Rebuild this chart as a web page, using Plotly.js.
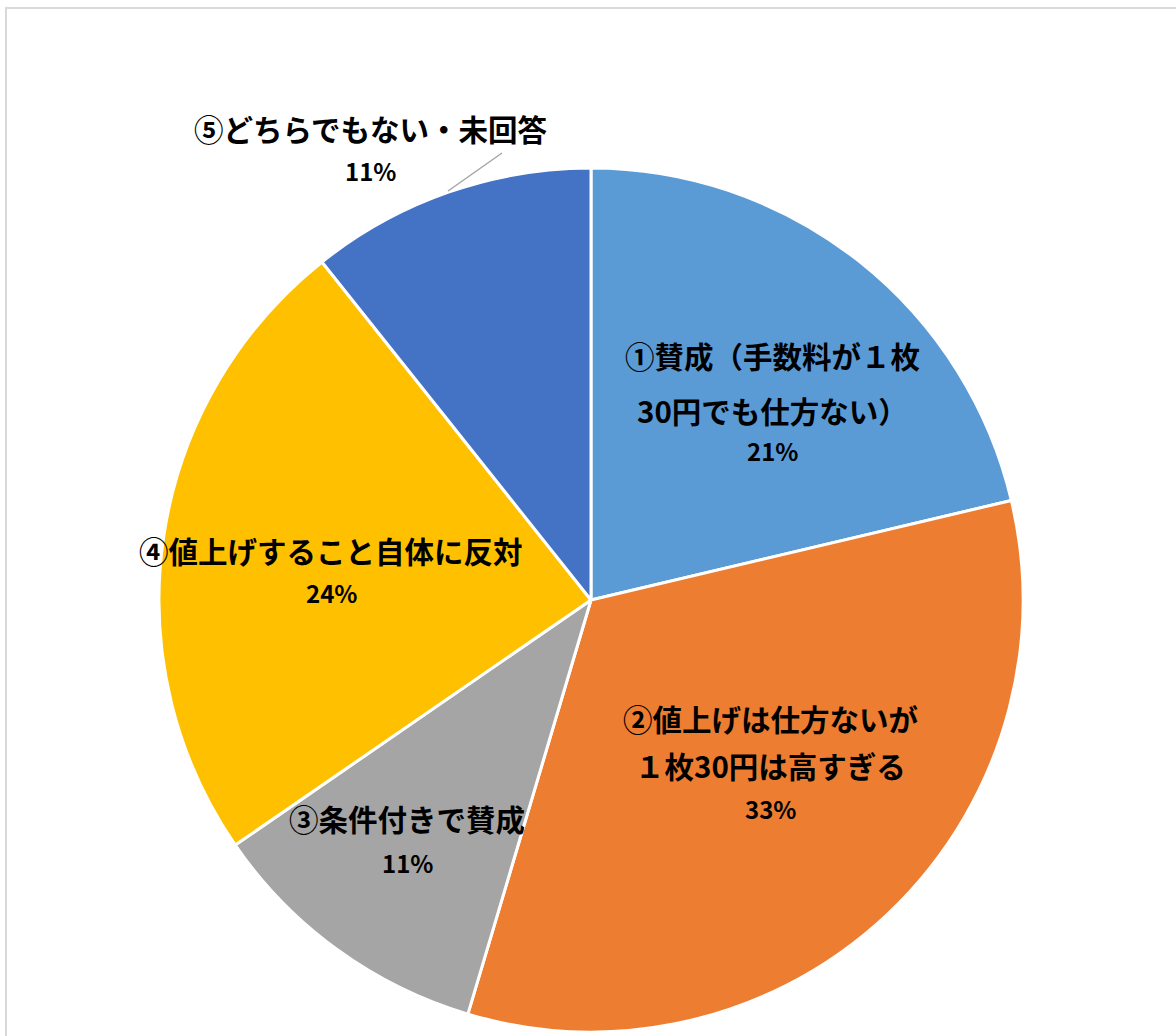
<!DOCTYPE html>
<html>
<head>
<meta charset="utf-8">
<script src="https://cdn.plot.ly/plotly-3.0.1.min.js"></script>
<style>
  html, body { margin: 0; padding: 0; background: #ffffff; }
  #chart { width: 1176px; height: 1036px; }
</style>
</head>
<body>
<div id="chart"></div>
<script>
// ---- data ----
const categories = [
  '①賛成（手数料が１枚30円でも仕方ない）',
  '②値上げは仕方ないが１枚30円は高すぎる',
  '③条件付きで賛成',
  '④値上げすること自体に反対',
  '⑤どちらでもない・未回答'
];
const labelLines = [
  ['①賛成（手数料が１枚', '30円でも仕方ない）'],
  ['②値上げは仕方ないが', '１枚30円は高すぎる'],
  ['③条件付きで賛成'],
  ['④値上げすること自体に反対'],
  ['⑤どちらでもない・未回答']
];
const values = [21.3, 33.3, 10.8, 23.9, 10.7];
const colors = ['#5B9BD5', '#ED7D31', '#A5A5A5', '#FFC000', '#4472C4'];

// ---- layout helpers (pixel positions of label blocks) ----
const W = 1176, H = 1036;
const labelPos = [
  {x: 772, ys: [355, 410, 450]},
  {x: 770, ys: [718, 765, 808]},
  {x: 407, ys: [818, 862]},
  {x: 331, ys: [550, 592]},
  {x: 370, ys: [128, 170]}
];

const total = values.reduce((a, b) => a + b, 0);
const annotations = [];
categories.forEach((c, i) => {
  const lines = labelLines[i].concat([Math.round(values[i] / total * 100) + '%']);
  lines.forEach((t, j) => {
    annotations.push({
      xref: 'paper', yref: 'paper',
      x: labelPos[i].x / W, y: 1 - labelPos[i].ys[j] / H,
      xanchor: 'center', yanchor: 'middle',
      text: '<b>' + t + '</b>',
      showarrow: false,
      font: {family: '"Noto Sans CJK JP", "Noto Sans", sans-serif', size: j === lines.length - 1 ? 24 : 29.5, color: '#000000'}
    });
  });
});

const cx = 591, cy = 600, r = 432;

const trace = {
  type: 'pie',
  labels: categories,
  values: values,
  sort: false,
  direction: 'clockwise',
  rotation: 0,
  textinfo: 'none',
  hoverinfo: 'label+percent',
  marker: {colors: colors, line: {color: '#ffffff', width: 3}},
  domain: {x: [(cx - r) / W, (cx + r) / W], y: [1 - (cy + r) / H, 1 - (cy - r) / H]},
  showlegend: false
};

const layout = {
  width: W, height: H,
  margin: {l: 0, r: 0, t: 0, b: 0},
  paper_bgcolor: '#ffffff',
  showlegend: false,
  annotations: annotations,
  shapes: [
    {type: 'line', xref: 'paper', yref: 'paper', x0: 5 / W, x1: 1, y0: 1 - 8 / H, y1: 1 - 8 / H, line: {color: '#D9D9D9', width: 2}},
    {type: 'line', xref: 'paper', yref: 'paper', x0: 6 / W, x1: 6 / W, y0: 0, y1: 1 - 8 / H, line: {color: '#D9D9D9', width: 2}},
    {type: 'line', xref: 'paper', yref: 'paper', x0: 502 / W, x1: 448 / W, y0: 1 - 153 / H, y1: 1 - 191 / H, line: {color: '#A6A6A6', width: 1.5}}
  ]
};

Plotly.newPlot('chart', [trace], layout, {displayModeBar: false, staticPlot: true});
</script>
</body>
</html>
